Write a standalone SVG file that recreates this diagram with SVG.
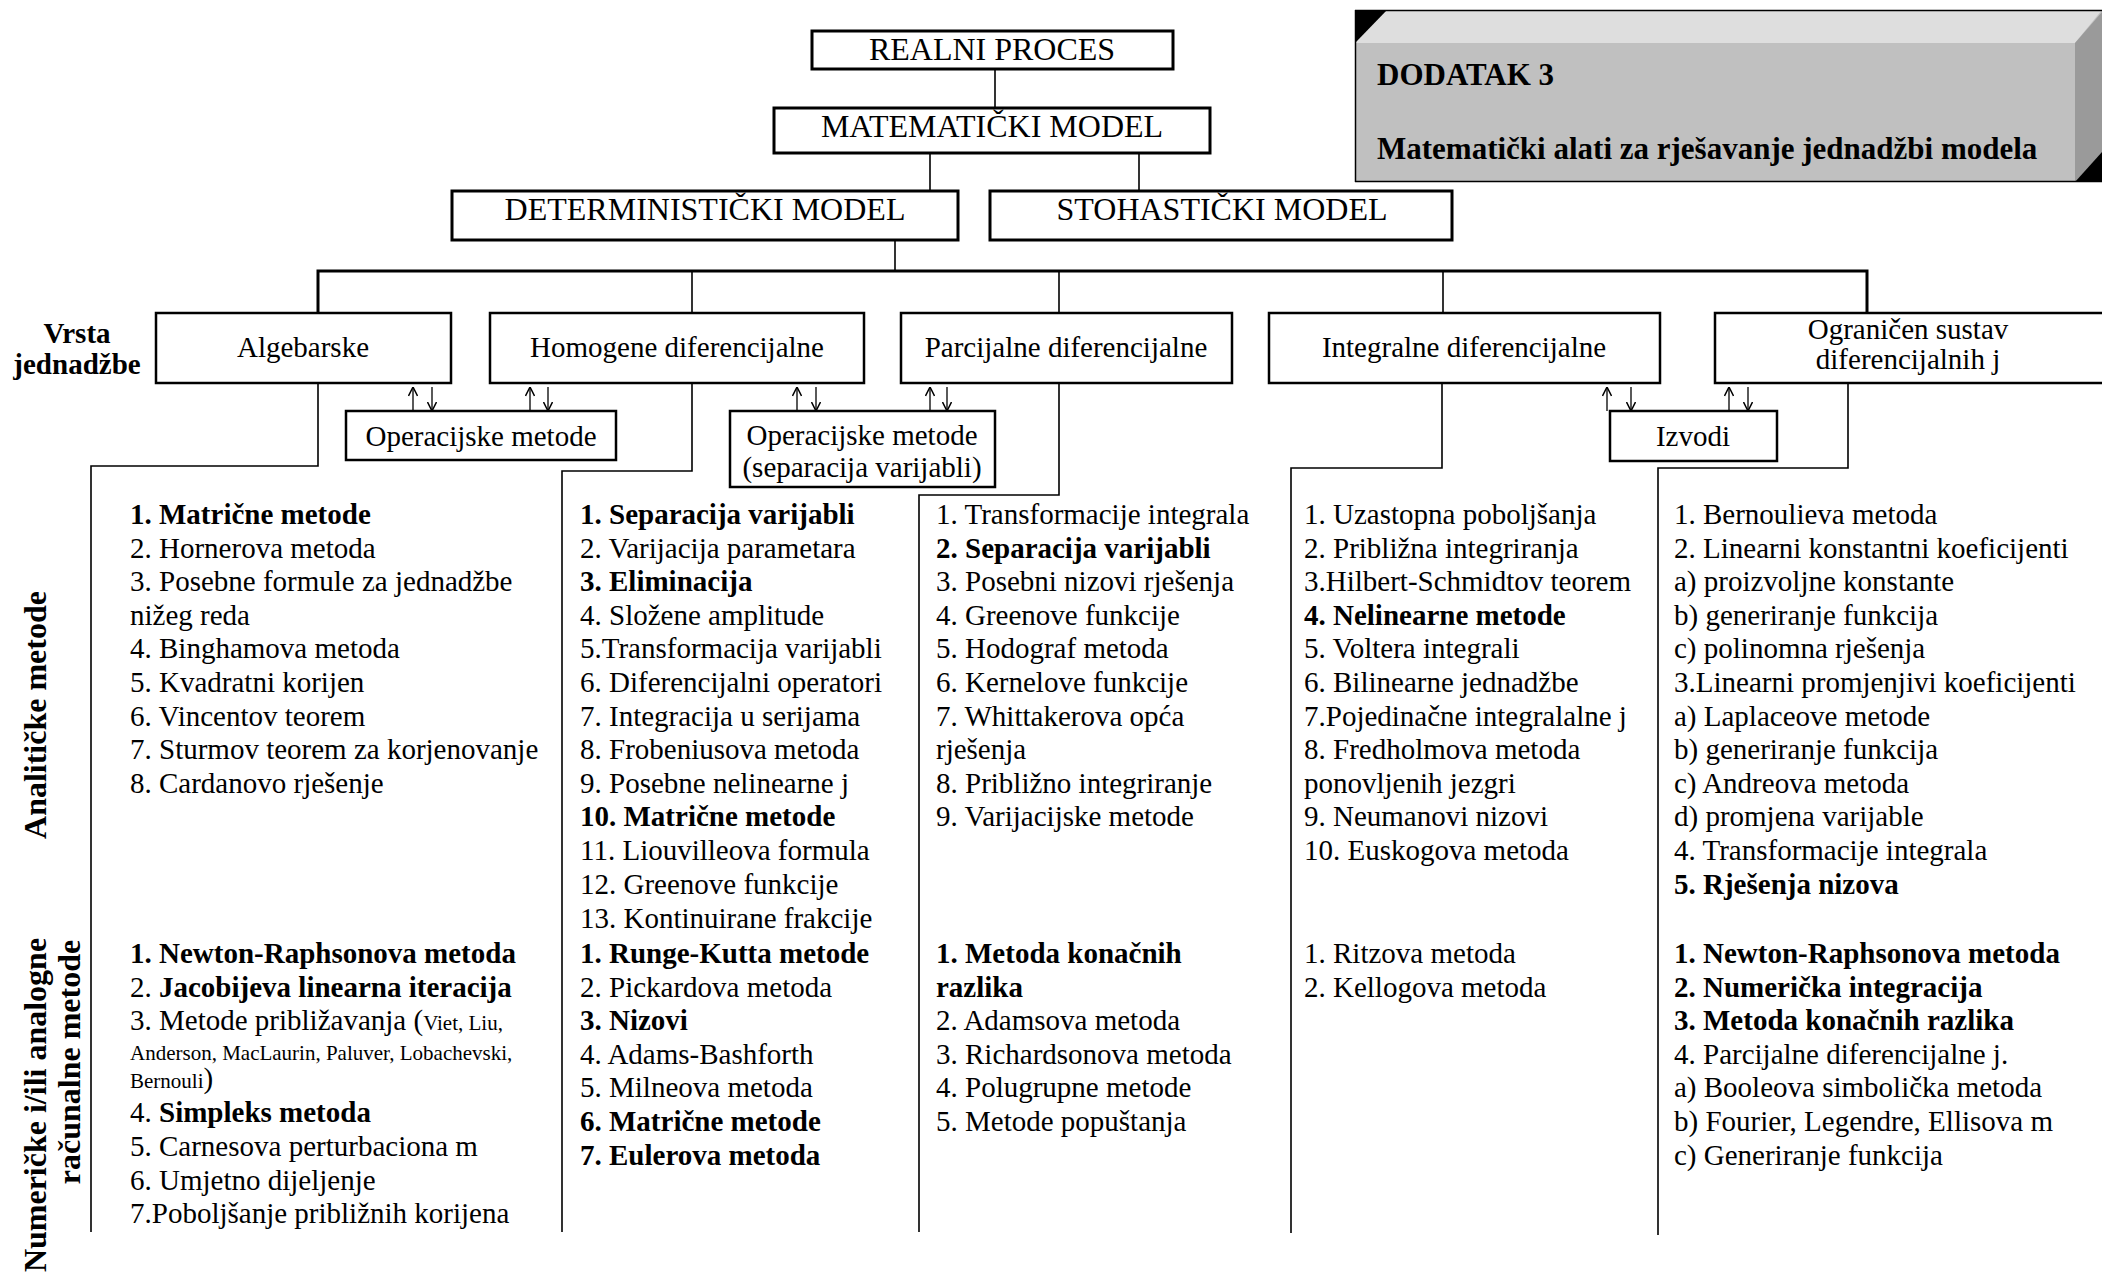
<svg xmlns="http://www.w3.org/2000/svg" width="2102" height="1274" viewBox="0 0 2102 1274">
  <style>
    text { font-family: "Liberation Serif", "Times New Roman", serif; fill: #000; }
    .t1 { font-size: 32px; text-anchor: middle; }
    .t2 { font-size: 29px; text-anchor: middle; }
    .li { font-size: 29px; }
    .sm { font-size: 21px; }
    .b { font-weight: bold; }
    .side { font-size: 32px; font-weight: bold; text-anchor: middle; }
    .box1 { fill: #fff; stroke: #000; stroke-width: 3; }
    .box2 { fill: #fff; stroke: #000; stroke-width: 2.5; }
    .ln { fill: none; stroke: #000; stroke-width: 1.6; }
    .bar { fill: none; stroke: #000; stroke-width: 3; }
    .arr { fill: none; stroke: #000; stroke-width: 1.3; marker-end: url(#ah); }
  </style>
  <defs>
    <marker id="ah" viewBox="0 0 10 10" refX="9.5" refY="5" markerWidth="10" markerHeight="10" orient="auto" markerUnits="userSpaceOnUse">
      <path d="M0.5,0.5 L9.5,5 L0.5,9.5" fill="none" stroke="#000" stroke-width="1.5"/>
    </marker>
  </defs>

  <rect width="2102" height="1274" fill="#fff"/>

  <!-- appendix title plate -->
  <g id="title-plate">
    <rect x="1355" y="10" width="747" height="172" fill="#c0c0c0"/>
    <polygon points="1387,10 2102,10 2075,43 1355,43" fill="#dedede"/>
    <polygon points="2075,43 2102,12 2102,182 2075,182" fill="#9a9a9a"/>
    <polygon points="1355,10 1387,10 1355,43" fill="#000"/>
    <polygon points="2075,182 2102,182 2102,152" fill="#000"/>
    <line x1="1355" y1="10.5" x2="2102" y2="10.5" stroke="#000" stroke-width="1.5"/>
    <line x1="1355" y1="181.5" x2="2102" y2="181.5" stroke="#000" stroke-width="1.5"/>
    <line x1="1355.5" y1="10" x2="1355.5" y2="182" stroke="#000" stroke-width="1.5"/>
    <text x="1377" y="85" class="b" font-size="31">DODATAK 3</text>
    <text x="1377" y="159" class="b" font-size="31">Matematički alati za rješavanje jednadžbi modela</text>
  </g>

  <!-- connectors -->
  <g id="connectors">
    <line class="ln" x1="995" y1="69" x2="995" y2="108"/>
    <line class="ln" x1="930" y1="153" x2="930" y2="191"/>
    <line class="ln" x1="1139" y1="153" x2="1139" y2="191"/>
    <line class="ln" x1="895" y1="240" x2="895" y2="271"/>
    <polyline class="bar" points="318,313 318,271 1867,271 1867,313"/>
    <line class="ln" x1="692" y1="271" x2="692" y2="313"/>
    <line class="ln" x1="1059" y1="271" x2="1059" y2="313"/>
    <line class="ln" x1="1443" y1="271" x2="1443" y2="313"/>
    <!-- drops from equation types into method columns -->
    <polyline class="ln" points="318,383 318,466 91,466 91,1232"/>
    <polyline class="ln" points="692,383 692,471 562,471 562,1232"/>
    <polyline class="ln" points="1059,383 1059,495 919,495 919,1232"/>
    <polyline class="ln" points="1442,383 1442,468 1291,468 1291,1233"/>
    <polyline class="ln" points="1848,383 1848,468 1658,468 1658,1235"/>
    <!-- two-way arrows to the method boxes -->
    <line class="arr" x1="413" y1="411" x2="413" y2="387"/>
    <line class="arr" x1="432" y1="387" x2="432" y2="411"/>
    <line class="arr" x1="530" y1="411" x2="530" y2="387"/>
    <line class="arr" x1="548" y1="387" x2="548" y2="411"/>
    <line class="arr" x1="797" y1="411" x2="797" y2="387"/>
    <line class="arr" x1="816" y1="387" x2="816" y2="411"/>
    <line class="arr" x1="930" y1="411" x2="930" y2="387"/>
    <line class="arr" x1="947" y1="387" x2="947" y2="411"/>
    <line class="arr" x1="1607" y1="411" x2="1607" y2="387"/>
    <line class="arr" x1="1631" y1="387" x2="1631" y2="411"/>
    <line class="arr" x1="1729" y1="411" x2="1729" y2="387"/>
    <line class="arr" x1="1748" y1="387" x2="1748" y2="411"/>
  </g>

  <!-- top levels -->
  <g id="realni-proces">
    <rect class="box1" x="812" y="31" width="361" height="38"/>
    <text class="t1" x="992" y="60">REALNI PROCES</text>
  </g>
  <g id="matematicki-model">
    <rect class="box1" x="774" y="108" width="436" height="45"/>
    <text class="t1" x="992" y="137">MATEMATIČKI MODEL</text>
  </g>
  <g id="deterministicki-model">
    <rect class="box1" x="452" y="191" width="506" height="49"/>
    <text class="t1" x="705" y="220">DETERMINISTIČKI MODEL</text>
  </g>
  <g id="stohasticki-model">
    <rect class="box1" x="990" y="191" width="462" height="49"/>
    <text class="t1" x="1222" y="220">STOHASTIČKI MODEL</text>
  </g>

  <!-- equation types -->
  <g id="vrsta-jednadzbe">
    <text x="77" y="343" class="t2 b">Vrsta</text>
    <text x="77" y="374" class="t2 b">jednadžbe</text>
  </g>
  <g id="algebarske">
    <rect class="box2" x="156" y="313" width="295" height="70"/>
    <text class="t2" x="303" y="357">Algebarske</text>
  </g>
  <g id="homogene">
    <rect class="box2" x="490" y="313" width="374" height="70"/>
    <text class="t2" x="677" y="357">Homogene diferencijalne</text>
  </g>
  <g id="parcijalne">
    <rect class="box2" x="901" y="313" width="331" height="70"/>
    <text class="t2" x="1066" y="357">Parcijalne diferencijalne</text>
  </g>
  <g id="integralne">
    <rect class="box2" x="1269" y="313" width="391" height="70"/>
    <text class="t2" x="1464" y="357">Integralne diferencijalne</text>
  </g>
  <g id="ogranicen-sustav">
    <rect class="box2" x="1715" y="313" width="400" height="70"/>
    <text class="t2" x="1908" y="339">Ograničen sustav</text>
    <text class="t2" x="1908" y="369">diferencijalnih j</text>
  </g>

  <!-- intermediate methods -->
  <g id="operacijske-metode">
    <rect class="box2" x="346" y="411" width="270" height="49"/>
    <text class="t2" x="481" y="446">Operacijske metode</text>
  </g>
  <g id="operacijske-metode-separacija">
    <rect class="box2" x="730" y="411" width="265" height="76"/>
    <text class="t2" x="862" y="445">Operacijske metode</text>
    <text class="t2" x="862" y="477">(separacija varijabli)</text>
  </g>
  <g id="izvodi">
    <rect class="box2" x="1610" y="411" width="167" height="50"/>
    <text class="t2" x="1693" y="446">Izvodi</text>
  </g>

  <!-- row labels -->
  <g id="row-labels">
    <text class="side" transform="translate(46,715) rotate(-90)">Analitičke metode</text>
    <text class="side" transform="translate(46,1105) rotate(-90)">Numeričke i/ili analogne</text>
    <text class="side" transform="translate(80,1062) rotate(-90)">računalne metode</text>
  </g>

  <!-- algebraic equations -->
  <g id="algebarske-analiticke">
    <text class="li b" x="130" y="524">1. Matrične metode</text>
    <text class="li" x="130" y="558">2. Hornerova metoda</text>
    <text class="li" x="130" y="591">3. Posebne formule za jednadžbe</text>
    <text class="li" x="130" y="625">nižeg reda</text>
    <text class="li" x="130" y="658">4. Binghamova metoda</text>
    <text class="li" x="130" y="692">5. Kvadratni korijen</text>
    <text class="li" x="130" y="726">6. Vincentov teorem</text>
    <text class="li" x="130" y="759">7. Sturmov teorem za korjenovanje</text>
    <text class="li" x="130" y="793">8. Cardanovo rješenje</text>
  </g>
  <g id="algebarske-numericke">
    <text class="li b" x="130" y="963">1. Newton-Raphsonova metoda</text>
    <text class="li" x="130" y="997">2. <tspan class="b">Jacobijeva linearna iteracija</tspan></text>
    <text class="li" x="130" y="1030">3. Metode približavanja (<tspan class="sm">Viet, Liu,</tspan></text>
    <text class="sm" x="130" y="1060">Anderson, MacLaurin, Paluver, Lobachevski,</text>
    <text class="sm" x="130" y="1088">Bernouli<tspan class="li">)</tspan></text>
    <text class="li" x="130" y="1122">4. <tspan class="b">Simpleks metoda</tspan></text>
    <text class="li" x="130" y="1156">5. Carnesova perturbaciona m</text>
    <text class="li" x="130" y="1190">6. Umjetno dijeljenje</text>
    <text class="li" x="130" y="1223">7.Poboljšanje približnih korijena</text>
  </g>

  <!-- homogeneous differential equations -->
  <g id="homogene-analiticke">
    <text class="li b" x="580" y="524">1. Separacija varijabli</text>
    <text class="li" x="580" y="558">2. Varijacija parametara</text>
    <text class="li b" x="580" y="591">3. Eliminacija</text>
    <text class="li" x="580" y="625">4. Složene amplitude</text>
    <text class="li" x="580" y="658">5.Transformacija varijabli</text>
    <text class="li" x="580" y="692">6. Diferencijalni operatori</text>
    <text class="li" x="580" y="726">7. Integracija u serijama</text>
    <text class="li" x="580" y="759">8. Frobeniusova metoda</text>
    <text class="li" x="580" y="793">9. Posebne nelinearne j</text>
    <text class="li b" x="580" y="826">10. Matrične metode</text>
    <text class="li" x="580" y="860">11. Liouvilleova formula</text>
    <text class="li" x="580" y="894">12. Greenove funkcije</text>
    <text class="li" x="580" y="928">13. Kontinuirane frakcije</text>
  </g>
  <g id="homogene-numericke">
    <text class="li b" x="580" y="963">1. Runge-Kutta metode</text>
    <text class="li" x="580" y="997">2. Pickardova metoda</text>
    <text class="li b" x="580" y="1030">3. Nizovi</text>
    <text class="li" x="580" y="1064">4. Adams-Bashforth</text>
    <text class="li" x="580" y="1097">5. Milneova metoda</text>
    <text class="li b" x="580" y="1131">6. Matrične metode</text>
    <text class="li b" x="580" y="1165">7. Eulerova metoda</text>
  </g>

  <!-- partial differential equations -->
  <g id="parcijalne-analiticke">
    <text class="li" x="936" y="524">1. Transformacije integrala</text>
    <text class="li b" x="936" y="558">2. Separacija varijabli</text>
    <text class="li" x="936" y="591">3. Posebni nizovi rješenja</text>
    <text class="li" x="936" y="625">4. Greenove funkcije</text>
    <text class="li" x="936" y="658">5. Hodograf metoda</text>
    <text class="li" x="936" y="692">6. Kernelove funkcije</text>
    <text class="li" x="936" y="726">7. Whittakerova opća</text>
    <text class="li" x="936" y="759">rješenja</text>
    <text class="li" x="936" y="793">8. Približno integriranje</text>
    <text class="li" x="936" y="826">9. Varijacijske metode</text>
  </g>
  <g id="parcijalne-numericke">
    <text class="li b" x="936" y="963">1. Metoda konačnih</text>
    <text class="li b" x="936" y="997">razlika</text>
    <text class="li" x="936" y="1030">2. Adamsova metoda</text>
    <text class="li" x="936" y="1064">3. Richardsonova metoda</text>
    <text class="li" x="936" y="1097">4. Polugrupne metode</text>
    <text class="li" x="936" y="1131">5. Metode popuštanja</text>
  </g>

  <!-- integral equations -->
  <g id="integralne-analiticke">
    <text class="li" x="1304" y="524">1. Uzastopna poboljšanja</text>
    <text class="li" x="1304" y="558">2. Približna integriranja</text>
    <text class="li" x="1304" y="591">3.Hilbert-Schmidtov teorem</text>
    <text class="li b" x="1304" y="625">4. Nelinearne metode</text>
    <text class="li" x="1304" y="658">5. Voltera integrali</text>
    <text class="li" x="1304" y="692">6. Bilinearne jednadžbe</text>
    <text class="li" x="1304" y="726">7.Pojedinačne integralalne j</text>
    <text class="li" x="1304" y="759">8. Fredholmova metoda</text>
    <text class="li" x="1304" y="793">ponovljenih jezgri</text>
    <text class="li" x="1304" y="826">9. Neumanovi nizovi</text>
    <text class="li" x="1304" y="860">10. Euskogova metoda</text>
  </g>
  <g id="integralne-numericke">
    <text class="li" x="1304" y="963">1. Ritzova metoda</text>
    <text class="li" x="1304" y="997">2. Kellogova metoda</text>
  </g>

  <!-- bounded systems of differential equations -->
  <g id="ogranicen-analiticke">
    <text class="li" x="1674" y="524">1. Bernoulieva metoda</text>
    <text class="li" x="1674" y="558">2. Linearni konstantni koeficijenti</text>
    <text class="li" x="1674" y="591">a) proizvoljne konstante</text>
    <text class="li" x="1674" y="625">b) generiranje funkcija</text>
    <text class="li" x="1674" y="658">c) polinomna rješenja</text>
    <text class="li" x="1674" y="692">3.Linearni promjenjivi koeficijenti</text>
    <text class="li" x="1674" y="726">a) Laplaceove metode</text>
    <text class="li" x="1674" y="759">b) generiranje funkcija</text>
    <text class="li" x="1674" y="793">c) Andreova metoda</text>
    <text class="li" x="1674" y="826">d) promjena varijable</text>
    <text class="li" x="1674" y="860">4. Transformacije integrala</text>
    <text class="li b" x="1674" y="894">5. Rješenja nizova</text>
  </g>
  <g id="ogranicen-numericke">
    <text class="li b" x="1674" y="963">1. Newton-Raphsonova metoda</text>
    <text class="li b" x="1674" y="997">2. Numerička integracija</text>
    <text class="li b" x="1674" y="1030">3. Metoda konačnih razlika</text>
    <text class="li" x="1674" y="1064">4. Parcijalne diferencijalne j.</text>
    <text class="li" x="1674" y="1097">a) Booleova simbolička metoda</text>
    <text class="li" x="1674" y="1131">b) Fourier, Legendre, Ellisova m</text>
    <text class="li" x="1674" y="1165">c) Generiranje funkcija</text>
  </g>
</svg>
